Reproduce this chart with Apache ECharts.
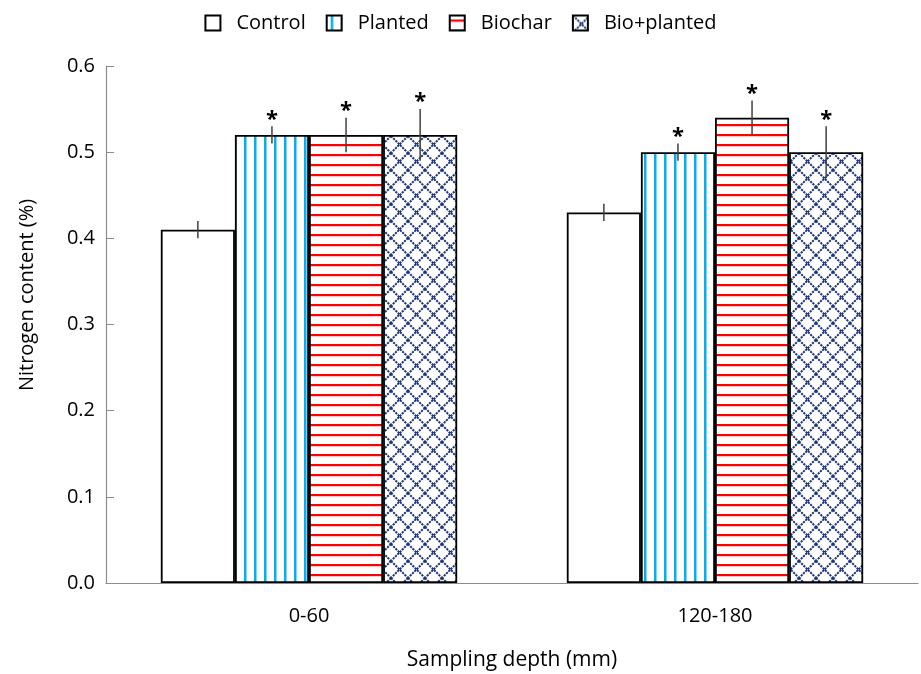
<!DOCTYPE html>
<html><head><meta charset="utf-8">
<script src="https://cdn.jsdelivr.net/npm/echarts@6/dist/echarts.min.js"></script>
<style>html,body{margin:0;padding:0;background:#fff}#c{width:921px;height:674px}</style>
</head><body><div id="c"></div>
<script>
const categories = ['0-60', '120-180'];
const seriesNames = ['Control', 'Planted', 'Biochar', 'Bio+planted'];
const controlVals = [0.41, 0.43];
const plantedVals = [0.52, 0.50];
const biocharVals = [0.52, 0.54];
const bioPlantedVals = [0.52, 0.50];
const controlErr = [0.01, 0.01];
const plantedErr = [0.01, 0.01];
const biocharErr = [0.02, 0.02];
const bioPlantedErr = [0.03, 0.03];
const controlSig = [false, false];
const plantedSig = [true, true];
const biocharSig = [true, true];
const bioPlantedSig = [true, true];
const yTicks = [0, 0.1, 0.2, 0.3, 0.4, 0.5, 0.6];

const FONT = '"Open Sans", sans-serif';

function tile(w, h, draw) {
  const c = document.createElement('canvas');
  c.width = w; c.height = h;
  const ctx = c.getContext('2d');
  ctx.fillStyle = '#fff'; ctx.fillRect(0, 0, w, h);
  draw(ctx, w, h);
  return c;
}
const vPat = tile(10, 10, (ctx) => { ctx.fillStyle = '#00B0F0'; ctx.fillRect(4, 0, 2.5, 10); });
const hPat = tile(10, 10, (ctx) => { ctx.fillStyle = '#FF0000'; ctx.fillRect(0, 4, 10, 2.2); });
const dPat = tile(17, 17, (ctx, w, h) => {
  ctx.strokeStyle = '#1F3575'; ctx.lineWidth = 2; ctx.setLineDash([2.2, 1]);
  ctx.beginPath(); ctx.moveTo(0, 0); ctx.lineTo(w, h); ctx.moveTo(w, 0); ctx.lineTo(0, h); ctx.stroke();
});

const fills = ['#ffffff', {image: vPat, repeat: 'repeat'}, {image: hPat, repeat: 'repeat'}, {image: dPat, repeat: 'repeat'}];
const vals = [controlVals, plantedVals, biocharVals, bioPlantedVals];
const errs = [controlErr, plantedErr, biocharErr, bioPlantedErr];
const sigs = [controlSig, plantedSig, biocharSig, bioPlantedSig];
const CAT_GAP = 0.27;

const series = [];
seriesNames.forEach((name, i) => {
  series.push({
    name, type: 'bar', data: vals[i], barGap: '0%', barCategoryGap: (CAT_GAP * 100) + '%',
    itemStyle: {color: fills[i], borderColor: '#000', borderWidth: 1.8},
    emphasis: {disabled: true}, z: 2
  });
});
seriesNames.forEach((name, i) => {
  series.push({
    type: 'custom', name: name + '_err', z: 5,
    data: categories.map((c, k) => [k, vals[i][k], errs[i][k], sigs[i][k] ? 1 : 0]),
    renderItem: function (params, api) {
      const k = api.value(0), v = api.value(1), e = api.value(2), s = api.value(3);
      const band = api.size([1, 0])[0];
      const group = band * (1 - CAT_GAP);
      const bw = group / 4;
      const c = api.coord([k, v]);
      const x = c[0] - group / 2 + bw * (i + 0.5);
      const top = api.coord([k, v + e])[1];
      const bot = api.coord([k, v - e])[1];
      const children = [{
        type: 'line', shape: {x1: x, y1: top, x2: x, y2: bot},
        style: {stroke: '#404040', lineWidth: 1.5}
      }];
      if (s) children.push({
        type: 'text', x: x, y: top - 7,
        style: {text: '*', font: 'bold 22px ' + FONT, fill: '#000', align: 'center', verticalAlign: 'middle'}
      });
      return {type: 'group', children};
    }
  });
});

const el = document.getElementById('c');
const chart = echarts.init(el, null, {renderer: 'canvas'});
chart.setOption({
  animation: false,
  backgroundColor: '#fff',
  grid: {left: 106, right: 3, top: 66, bottom: 91, containLabel: false, outerBoundsMode: 'none'},
  legend: {
    data: seriesNames, top: 8, left: 'center', icon: 'rect', itemWidth: 15, itemHeight: 15, itemGap: 20,
    textStyle: {fontFamily: FONT, fontSize: 20, color: '#000', padding: [0, 0, 0, 11]}
  },
  xAxis: {
    type: 'category', data: categories,
    axisLine: {lineStyle: {color: '#8c8c8c', width: 1.2}},
    axisTick: {inside: true, length: 7, lineStyle: {color: '#8c8c8c'}},
    axisLabel: {fontFamily: FONT, fontSize: 20, color: '#000', margin: 23},
    name: 'Sampling depth (mm)', nameLocation: 'middle', nameGap: 67,
    nameTextStyle: {fontFamily: FONT, fontSize: 21, color: '#000'}
  },
  yAxis: {
    type: 'value', min: 0, max: 0.6, interval: 0.1,
    axisLine: {show: true, lineStyle: {color: '#8c8c8c', width: 1.2}},
    axisTick: {show: true, inside: true, length: 8, lineStyle: {color: '#8c8c8c'}},
    splitLine: {show: false},
    axisLabel: {fontFamily: FONT, fontSize: 20, color: '#000', margin: 11, formatter: v => v.toFixed(1)}
  },
  graphic: [{
    type: 'text', x: 27, y: 295, rotation: Math.PI / 2,
    style: {text: 'Nitrogen content (%)', font: '20px ' + FONT, fill: '#000', align: 'center', verticalAlign: 'middle'}
  }],
  series
});
</script></body></html>
